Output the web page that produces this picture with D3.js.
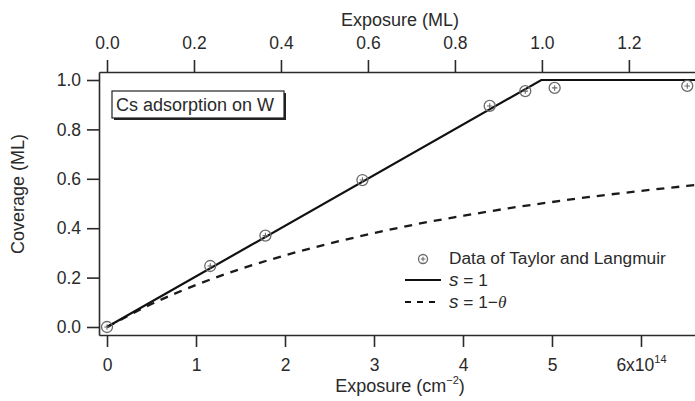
<!DOCTYPE html>
<html>
<head>
<meta charset="utf-8">
<script src="https://cdn.jsdelivr.net/npm/d3@7"></script>
<style>
  body { margin: 0; background: #fff; }
  text { font-family: "Liberation Sans", Arial, Helvetica, sans-serif; fill: #2a2a2a; }
  .axis path, .axis line { stroke: #2a2a2a; stroke-width: 1.6; }
  .axis text { font-size: 17.5px; fill: #2a2a2a; }
</style>
</head>
<body>
<div id="chart"></div>
<script>
// Taylor & Langmuir data points (exposure in 1e14 cm^-2, coverage in ML)
const dataExposure = [0, 1.16, 1.78, 2.87, 4.30, 4.70, 5.03, 6.52];
const dataCoverage = [0, 0.247, 0.37, 0.595, 0.895, 0.955, 0.968, 0.976];

// s = 1 (constant sticking)
const s1Exposure = [0, 4.88, 6.62];
const s1Coverage = [0, 1.0, 1.0];

// s = 1 - theta
const s2Exposure = [0, 0.5, 1, 1.5, 2, 2.5, 3, 3.5, 4, 4.5, 5, 5.5, 6, 6.62];
const s2Coverage = [0, 0.093, 0.17, 0.235, 0.29, 0.338, 0.38, 0.418, 0.45, 0.48, 0.506, 0.53, 0.551, 0.575];

// tick values
const bottomTicks = [0, 1, 2, 3, 4, 5, 6];
const topTicks = [0, 0.2, 0.4, 0.6, 0.8, 1.0, 1.2];
const leftTicks = [0, 0.2, 0.4, 0.6, 0.8, 1.0];

const W = 695, H = 401;
const plot = {l: 99, r: 695, t: 72, b: 335};

const svg = d3.select("#chart").append("svg")
    .attr("width", W).attr("height", H);

// scales
const x = d3.scaleLinear().domain([-0.09, 6.607]).range([plot.l, plot.r]);
const xTop = d3.scaleLinear().domain([-0.0184, 1.352]).range([plot.l, plot.r]);
const y = d3.scaleLinear().domain([-0.0324, 1.0324]).range([plot.b, plot.t]);

// bottom axis
const gB = svg.append("g").attr("class", "axis")
    .attr("transform", "translate(0," + plot.b + ")")
    .call(d3.axisBottom(x).tickValues(bottomTicks).tickSize(12).tickSizeOuter(0).tickPadding(12)
        .tickFormat(d => d === 6 ? "" : d3.format("d")(d)));
gB.selectAll(".tick").filter(d => d === 6).select("text")
    .call(t => {
        t.append("tspan").text("6x10");
        t.append("tspan").attr("font-size", "11px").attr("dy", "-8").text("14");
    });

// top axis (ML)
svg.append("g").attr("class", "axis")
    .attr("transform", "translate(0," + plot.t + ")")
    .call(d3.axisTop(xTop).tickValues(topTicks).tickSize(12).tickSizeOuter(0).tickPadding(11)
        .tickFormat(d3.format(".1f")));

// left axis
svg.append("g").attr("class", "axis")
    .attr("transform", "translate(" + plot.l + ",0)")
    .call(d3.axisLeft(y).tickValues(leftTicks).tickSize(12).tickSizeOuter(0).tickPadding(6)
        .tickFormat(d3.format(".1f")));

// axis titles
svg.append("text").attr("x", 400).attr("y", 26).attr("text-anchor", "middle")
    .attr("font-size", "18px").text("Exposure (ML)");

const bt = svg.append("text").attr("x", 400).attr("y", 392).attr("text-anchor", "middle")
    .attr("font-size", "18px");
bt.append("tspan").text("Exposure (cm");
bt.append("tspan").attr("font-size", "11px").attr("dy", "-8").text("\u22122");
bt.append("tspan").attr("dy", "8").text(")");

svg.append("text").attr("transform", "translate(24,194) rotate(-90)")
    .attr("text-anchor", "middle").attr("font-size", "18px").text("Coverage (ML)");

// lines
const line = d3.line().x(d => x(d[0])).y(d => y(d[1]));
const s1 = d3.zip(s1Exposure, s1Coverage);
const s2 = d3.zip(s2Exposure, s2Coverage);

svg.append("path").datum(s2)
    .attr("d", line.curve(d3.curveMonotoneX))
    .attr("fill", "none").attr("stroke", "#1a1a1a").attr("stroke-width", 2.3)
    .attr("stroke-dasharray", "8,7");

svg.append("path").datum(s1)
    .attr("d", d3.line().x(d => x(d[0])).y(d => y(d[1])))
    .attr("fill", "none").attr("stroke", "#111").attr("stroke-width", 2.2);

// data markers: circle with a plus
function marker(g, r) {
    g.append("circle").attr("r", r).attr("fill", "none")
        .attr("stroke", "#6a6a6a").attr("stroke-width", 1.3);
    g.append("path").attr("d", "M" + (-r * 0.5) + ",0H" + (r * 0.5) + "M0," + (-r * 0.5) + "V" + (r * 0.5))
        .attr("stroke", "#6a6a6a").attr("stroke-width", 1.1);
}
svg.selectAll(".pt").data(d3.zip(dataExposure, dataCoverage)).enter()
    .append("g").attr("class", "pt")
    .attr("transform", d => "translate(" + x(d[0]) + "," + y(d[1]) + ")")
    .each(function () { marker(d3.select(this), 5.5); });

// title box with shadow
svg.append("rect").attr("x", 114).attr("y", 93).attr("width", 172).attr("height", 27).attr("fill", "#222");
svg.append("rect").attr("x", 112).attr("y", 91).attr("width", 172).attr("height", 27)
    .attr("fill", "#fff").attr("stroke", "#222").attr("stroke-width", 1.2);
svg.append("text").attr("x", 116).attr("y", 111).attr("font-size", "18px").text("Cs adsorption on W");

// legend
const leg = svg.append("g");
marker(leg.append("g").attr("transform", "translate(423,259)"), 4.5);
leg.append("text").attr("x", 449).attr("y", 264).attr("font-size", "17.3px").text("Data of Taylor and Langmuir");

leg.append("line").attr("x1", 405).attr("x2", 441).attr("y1", 280).attr("y2", 280)
    .attr("stroke", "#111").attr("stroke-width", 2);
const l1 = leg.append("text").attr("x", 449).attr("y", 286).attr("font-size", "17.3px");
l1.append("tspan").attr("font-style", "italic").attr("font-size", "19px").text("s");
l1.append("tspan").text(" = 1");

leg.append("line").attr("x1", 405).attr("x2", 441).attr("y1", 302).attr("y2", 302)
    .attr("stroke", "#111").attr("stroke-width", 2).attr("stroke-dasharray", "6,6");
const l2 = leg.append("text").attr("x", 449).attr("y", 308).attr("font-size", "17.3px");
l2.append("tspan").attr("font-style", "italic").attr("font-size", "19px").text("s");
l2.append("tspan").text(" = 1\u2212");
l2.append("tspan").attr("font-family", "Liberation Serif, Times New Roman, serif").attr("font-style", "italic").text("\u03b8");
</script>
</body>
</html>
